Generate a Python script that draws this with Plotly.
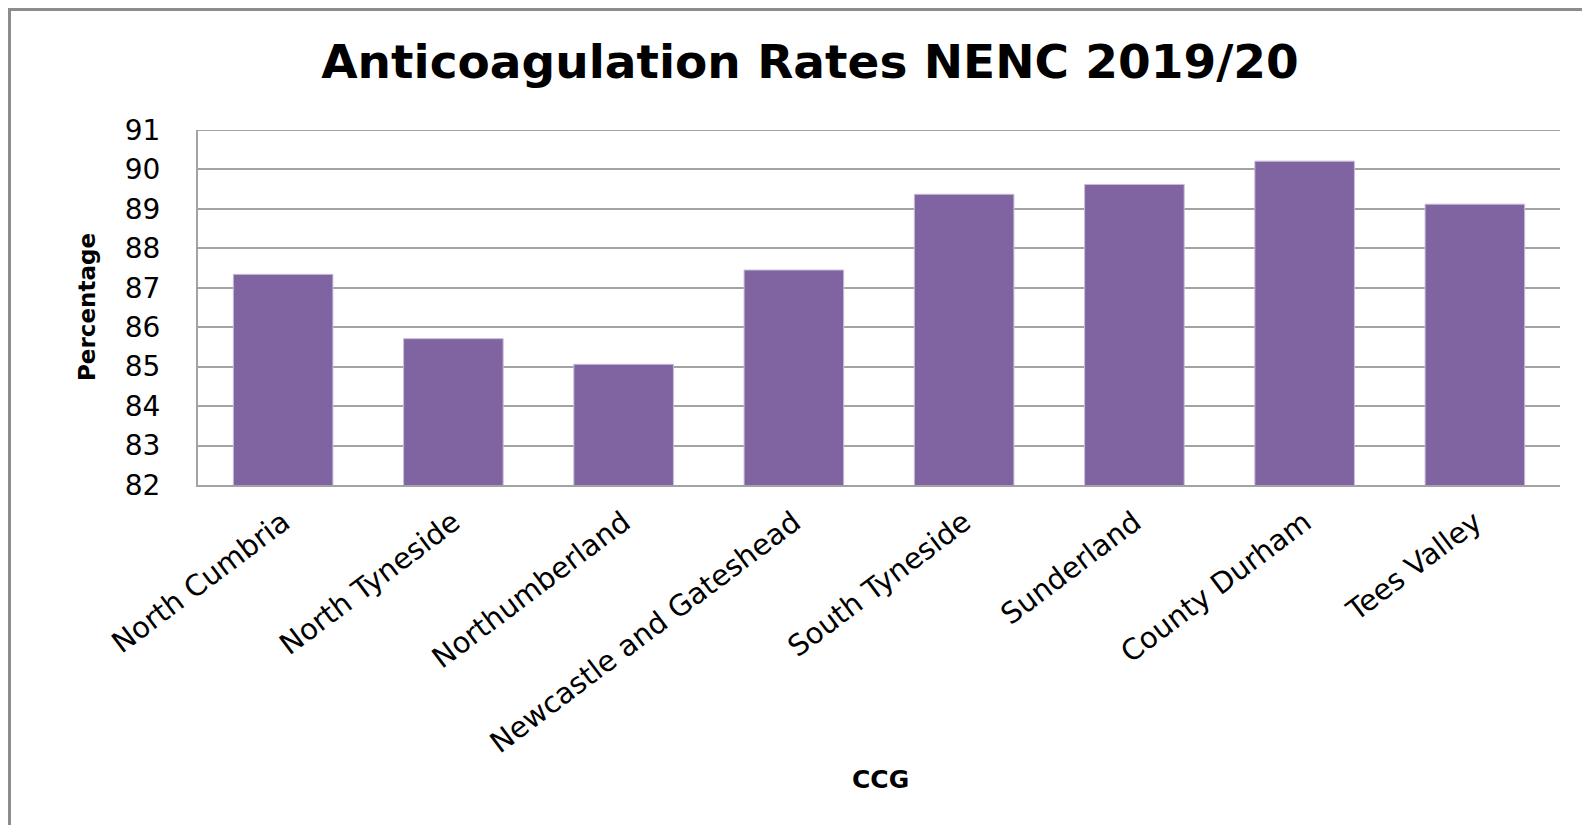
import plotly.graph_objects as go

categories = ["North Cumbria", "North Tyneside", "Northumberland", "Newcastle and Gateshead",
              "South Tyneside", "Sunderland", "County Durham", "Tees Valley"]
rates = [87.34, 85.71, 85.06, 87.45, 89.37, 89.62, 90.21, 89.12]
y_ticks = [82, 83, 84, 85, 86, 87, 88, 89, 90, 91]

# page body has an 8px default margin; work in figure pixel coords (page px - 8)
OFF = 8
W, H = 1590 - 2 * OFF, 833 - 2 * OFF
L, R, T, B = 198 - OFF, 1560 - OFF, 130 - OFF, 485 - OFF  # plot area
FONT = "DejaVu Sans"


def px_x(px):
    return (px - OFF - L) / (R - L)


def px_y(py):
    return (B - (py - OFF)) / (B - T)


fig = go.Figure()
fig.add_trace(go.Bar(
    x=categories, y=rates,
    marker=dict(color="#8064A2", line=dict(color="#c8bcd8", width=1)),
    width=0.585,
))

grid = "#a3a3a3"
fig.update_layout(
    width=W, height=H,
    margin=dict(l=L, r=W - R, t=T, b=H - B),
    paper_bgcolor="white", plot_bgcolor="white",
    showlegend=False,
    font=dict(family=FONT, color="#000000"),
    title=dict(text="<b>Anticoagulation Rates NENC 2019/20</b>",
               x=(810 - OFF) / W, xref="container", xanchor="center",
               y=1 - (62 - OFF) / H, yref="container", yanchor="middle",
               font=dict(family=FONT, size=47, color="#000000")),
    xaxis=dict(tickangle=-37, tickfont=dict(family=FONT, size=29, color="#000000"),
               showgrid=False, showline=True, linecolor=grid, linewidth=2,
               zeroline=False, ticks="", ticklabelstandoff=7),
    yaxis=dict(range=[82, 91], tickvals=y_ticks, ticktext=[str(v) for v in y_ticks],
               tickfont=dict(family=FONT, size=28, color="#000000"),
               showgrid=True, gridcolor=grid, gridwidth=2,
               showline=True, linecolor=grid, linewidth=2,
               zeroline=False, ticks="", ticklabelstandoff=30),
)

# top gridline at the range edge
fig.add_shape(type="line", xref="x domain", yref="y", x0=0, x1=1, y0=y_ticks[-1], y1=y_ticks[-1],
              line=dict(color=grid, width=2))

fig.add_annotation(text="<b>Percentage</b>", xref="paper", yref="paper",
                   x=px_x(87), y=px_y(307), textangle=-90, showarrow=False,
                   font=dict(family=FONT, size=23, color="#000000"),
                   xanchor="center", yanchor="middle")
fig.add_annotation(text="<b>CCG</b>", xref="paper", yref="paper",
                   x=px_x(880), y=px_y(779), showarrow=False,
                   font=dict(family=FONT, size=25, color="#000000"),
                   xanchor="center", yanchor="middle")

# chart-area border (top, left) - as close to the page edge as the figure allows
fig.add_shape(type="line", xref="paper", yref="paper",
              x0=px_x(8), x1=px_x(1600), y0=px_y(OFF + 1.5), y1=px_y(OFF + 1.5),
              line=dict(color="#8c8c8c", width=3))
fig.add_shape(type="line", xref="paper", yref="paper",
              x0=px_x(OFF + 1.5), x1=px_x(OFF + 1.5), y0=px_y(OFF), y1=px_y(840),
              line=dict(color="#8c8c8c", width=3))

fig.write_html("out.html")
